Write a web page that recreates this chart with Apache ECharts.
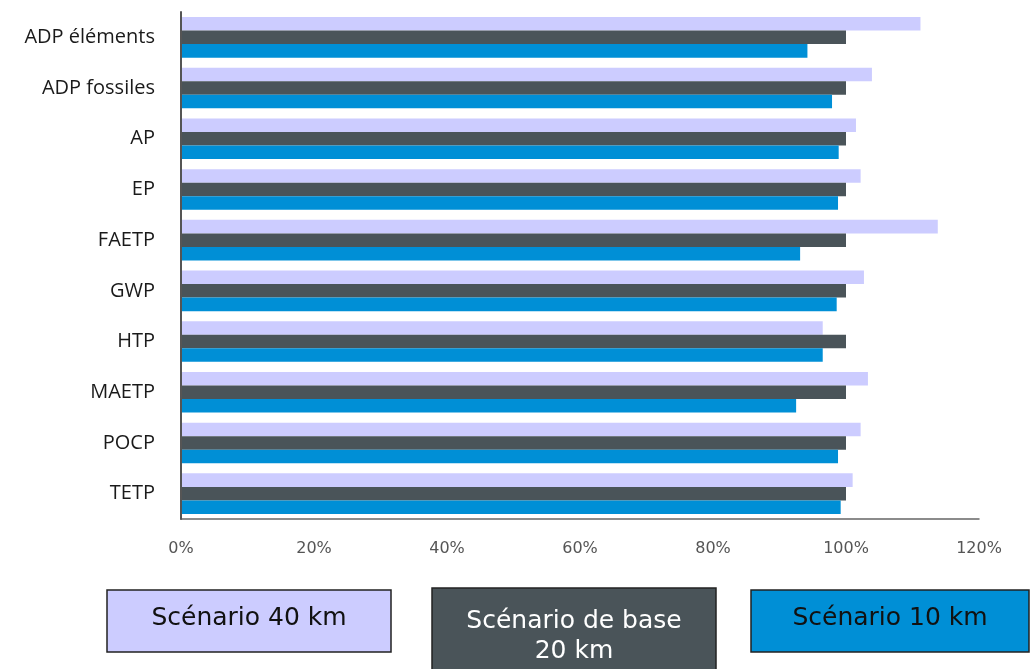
<!DOCTYPE html>
<html>
<head>
<meta charset="utf-8">
<script src="https://cdn.jsdelivr.net/npm/echarts@6/dist/echarts.min.js"></script>
<style>
  html, body { margin: 0; padding: 0; background: #fff; }
  #main { width: 1034px; height: 669px; }
</style>
</head>
<body>
<div id="main"></div>
<script>
// catégories d'impact
const categories = ['ADP éléments', 'ADP fossiles', 'AP', 'EP', 'FAETP', 'GWP', 'HTP', 'MAETP', 'POCP', 'TETP'];
// valeurs relatives au scénario de base (%)
const scen40 = [111.2, 103.9, 101.5, 102.2, 113.8, 102.7, 96.5, 103.3, 102.2, 101.0];
const scenBase = [100, 100, 100, 100, 100, 100, 100, 100, 100, 100];
const scen10 = [94.2, 97.9, 98.9, 98.8, 93.1, 98.6, 96.5, 92.5, 98.8, 99.2];
const xTicks = ['0%', '20%', '40%', '60%', '80%', '100%', '120%'];

const chart = echarts.init(document.getElementById('main'));

const option = {
  animation: false,
  grid: { left: 181, right: 55, top: 12, bottom: 150 },
  xAxis: {
    type: 'value',
    min: 0,
    max: 120,
    interval: 20,
    splitLine: { show: false },
    axisLine: { show: true, lineStyle: { color: '#666', width: 1.5 } },
    axisTick: { show: false },
    axisLabel: {
      margin: 22,
      color: '#555',
      fontFamily: 'DejaVu Sans',
      fontSize: 16,
      formatter: v => xTicks[v / 20]
    }
  },
  yAxis: {
    type: 'category',
    data: categories,
    inverse: true,
    z: 5,
    axisLine: { show: true, lineStyle: { color: '#555', width: 2 } },
    axisTick: { show: false },
    axisLabel: {
      margin: 26,
      color: '#1a1a1a',
      fontFamily: 'Open Sans',
      fontSize: 20,
      padding: [0, 0, 6, 0]
    }
  },
  series: [
    { name: 'Scénario 40 km', type: 'bar', data: scen40, barGap: '0%', barCategoryGap: '20%', itemStyle: { color: '#ccccff' } },
    { name: 'Scénario de base 20 km', type: 'bar', data: scenBase, itemStyle: { color: '#4a5459' } },
    { name: 'Scénario 10 km', type: 'bar', data: scen10, itemStyle: { color: '#008fd6' } }
  ],
  graphic: [
    { type: 'rect', shape: { x: 107, y: 590, width: 284, height: 62 }, style: { fill: '#ccccff', stroke: '#222', lineWidth: 1.5 } },
    { type: 'text', x: 249, y: 618, style: { text: 'Scénario 40 km', fill: '#111', font: '25px DejaVu Sans', align: 'center', verticalAlign: 'middle' } },
    { type: 'rect', shape: { x: 432, y: 588, width: 284, height: 90 }, style: { fill: '#4a5459', stroke: '#222', lineWidth: 1.5 } },
    { type: 'text', x: 574, y: 636, style: { text: 'Scénario de base\n20 km', fill: '#fff', font: '25px DejaVu Sans', align: 'center', verticalAlign: 'middle', lineHeight: 30 } },
    { type: 'rect', shape: { x: 751, y: 590, width: 278, height: 62 }, style: { fill: '#008fd6', stroke: '#222', lineWidth: 1.5 } },
    { type: 'text', x: 890, y: 618, style: { text: 'Scénario 10 km', fill: '#111', font: '25px DejaVu Sans', align: 'center', verticalAlign: 'middle' } }
  ]
};

chart.setOption(option);
</script>
</body>
</html>
